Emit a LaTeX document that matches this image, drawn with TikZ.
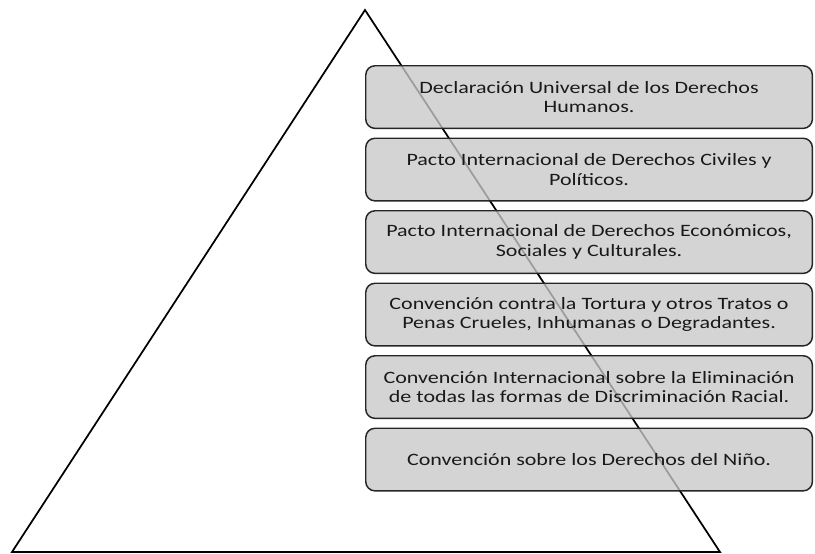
\documentclass[tikz,border=0pt]{standalone}
\usepackage{fontspec}
\setmainfont{Carlito}[FakeStretch=1.27]
\definecolor{boxfill}{RGB}{200,200,200}
\begin{document}
\begin{tikzpicture}[x=0.75pt,y=-0.75pt,
  box/.style={draw=black!85, line width=1.1pt, rounded corners=7pt, fill=boxfill,
    fill opacity=0.78, text opacity=1, text=black!90,
    minimum width=335pt, minimum height=47pt, align=center,
    font=\fontsize{13}{14.8}\selectfont, inner sep=0pt, anchor=north west},
  tri/.style={draw=black, line width=1.3pt, line join=miter}]
\useasboundingbox (0,0) rectangle (815,554);
\coordinate (apex) at (365,10);
\coordinate (bl) at (12,552);
\coordinate (br) at (720,552);
\draw[tri] (apex) -- (br) -- (bl) -- cycle;
\node[box] (b1) at (365,65)    {Declaración Universal de los Derechos\\Humanos.};
\node[box] (b2) at (365,137.5) {Pacto Internacional de Derechos Civiles y\\Políticos.};
\node[box] (b3) at (365,210)   {Pacto Internacional de Derechos Económicos,\\Sociales y Culturales.};
\node[box] (b4) at (365,282.5) {Convención contra la Tortura y otros Tratos o\\Penas Crueles, Inhumanas o Degradantes.};
\node[box] (b5) at (365,355)   {Convención Internacional sobre la Eliminación\\de todas las formas de Discriminación Racial.};
\node[box] (b6) at (365,427.5) {Convención sobre los Derechos del Niño.};
\end{tikzpicture}
\end{document}
